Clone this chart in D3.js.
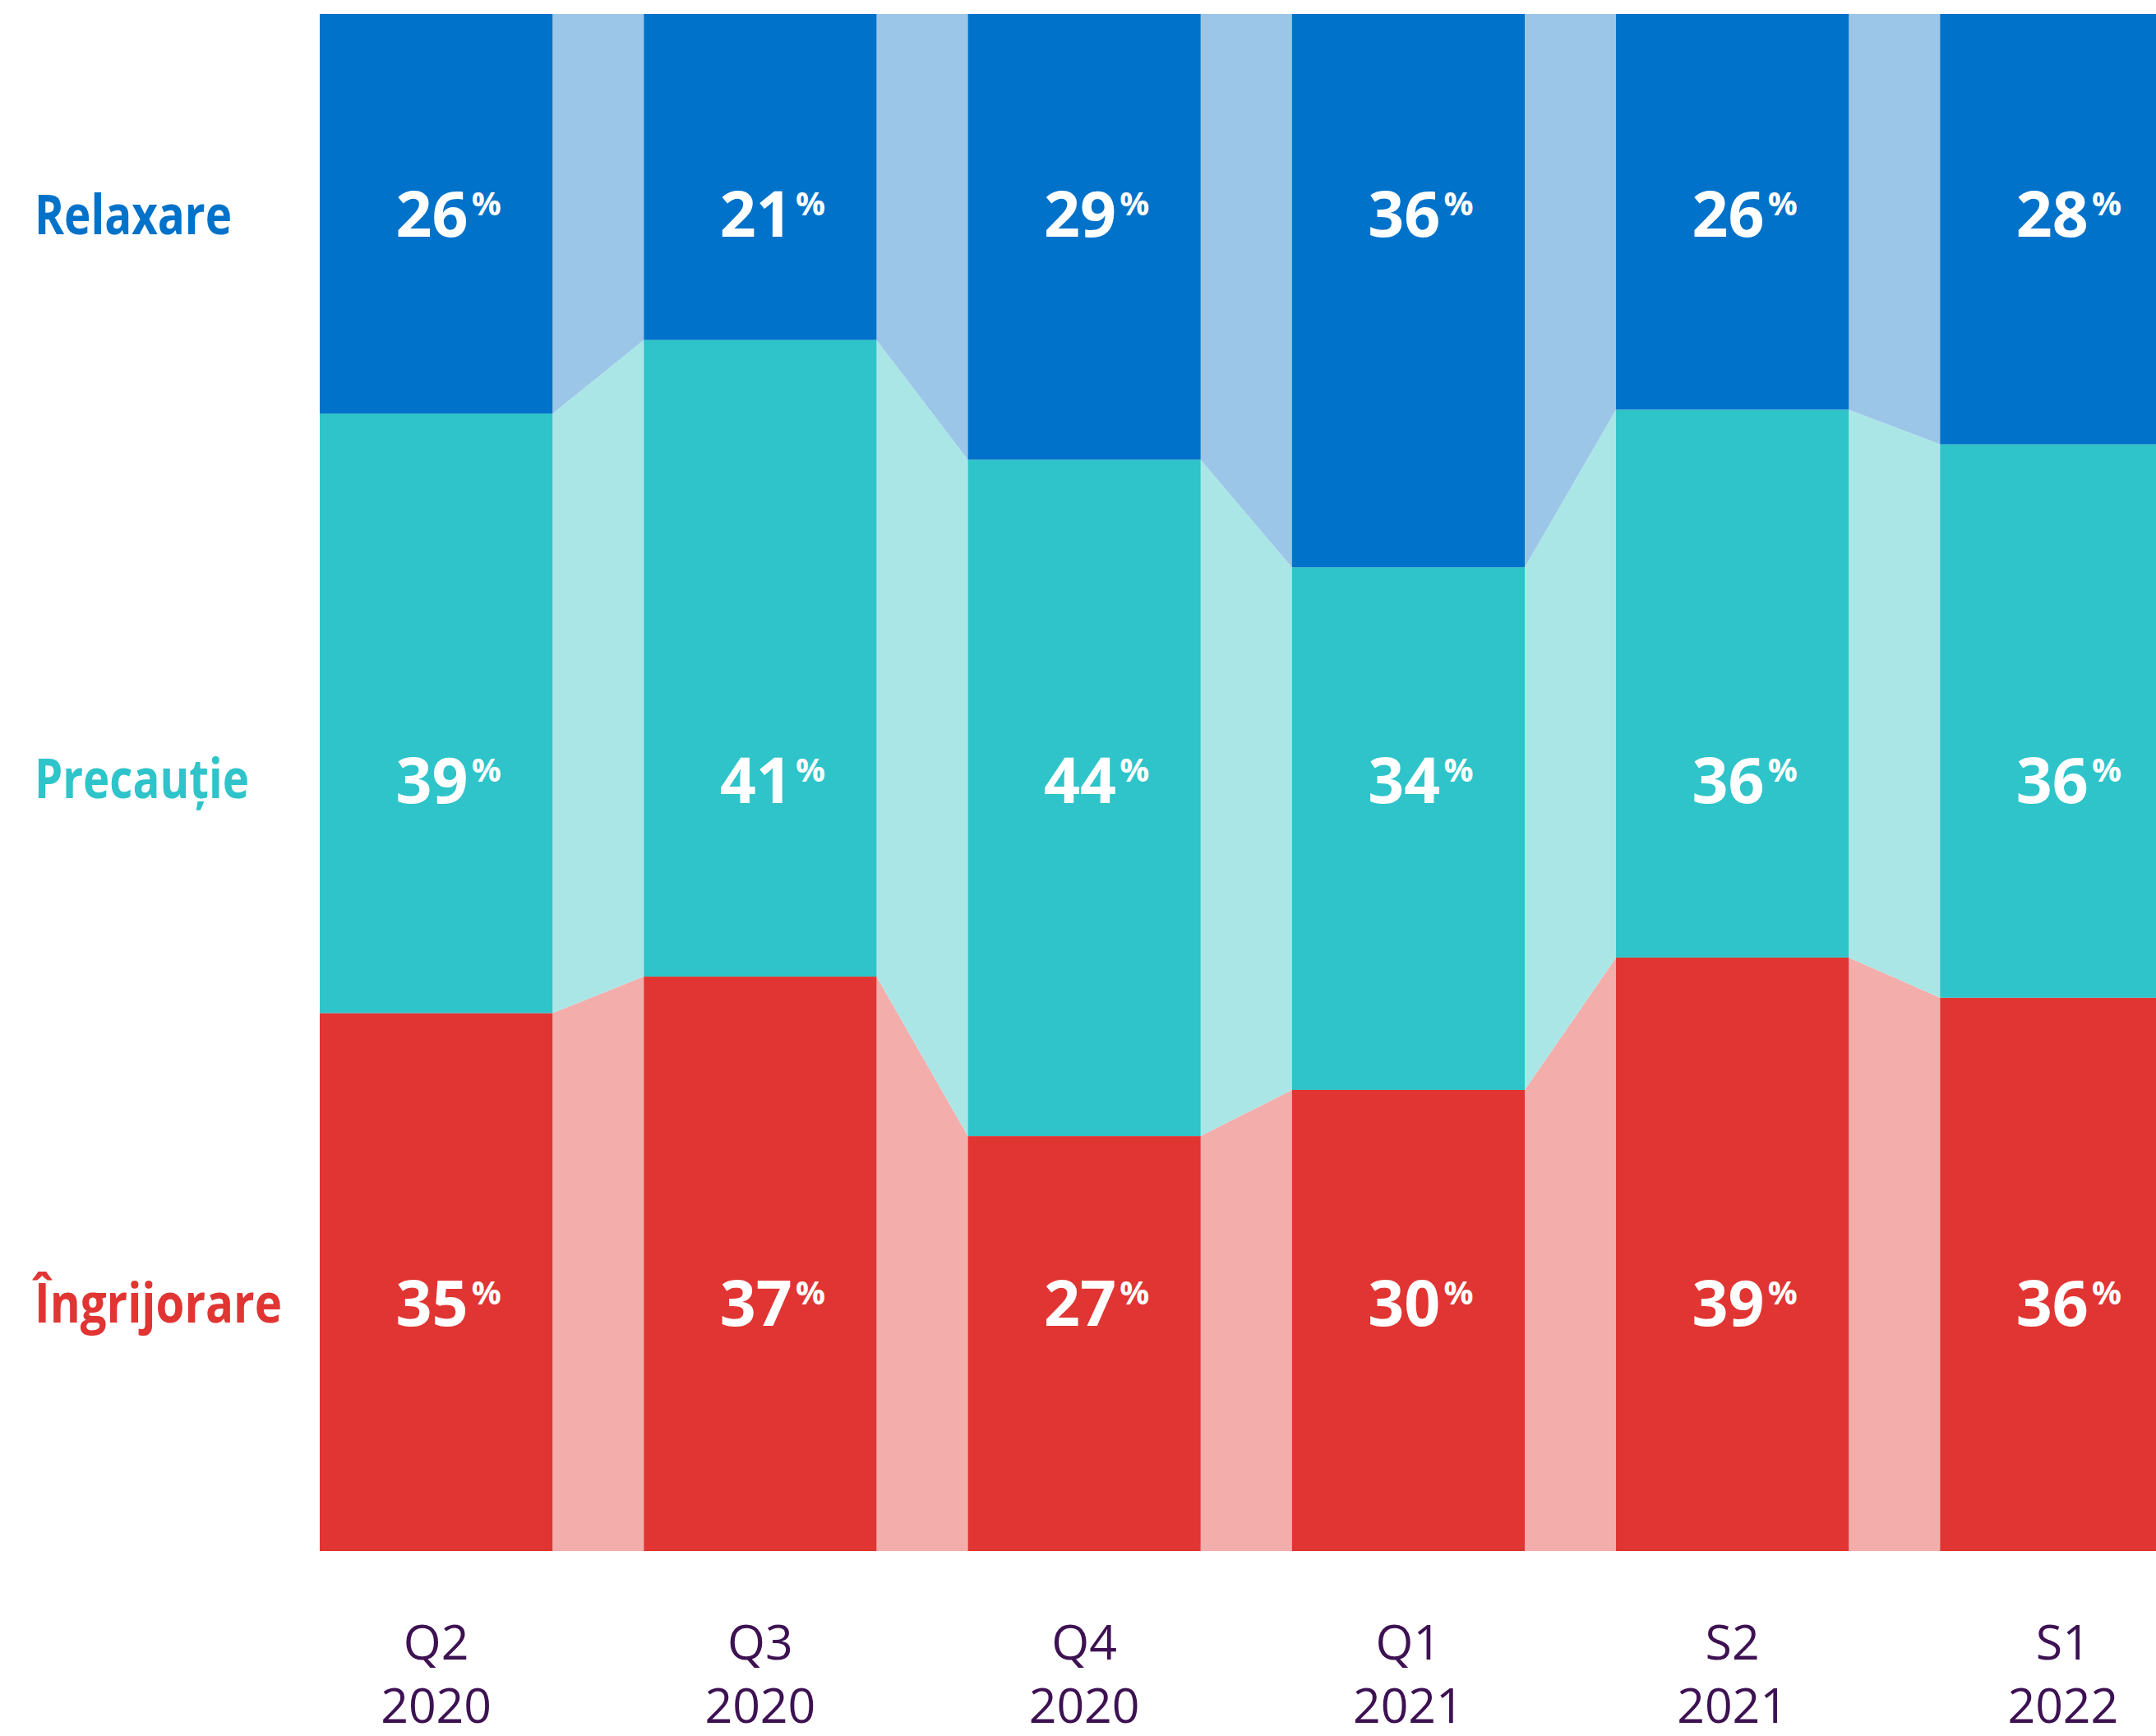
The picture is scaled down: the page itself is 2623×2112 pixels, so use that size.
<!DOCTYPE html>
<html><head><meta charset="utf-8">
<script src="https://cdn.jsdelivr.net/npm/d3@7"></script>
<style>html,body{margin:0;padding:0;background:#fff;overflow:hidden}</style>
</head><body>
<svg id="chart" width="2623" height="2112"></svg>
<script>
const periods = ["Q2","Q3","Q4","Q1","S2","S1"];
const years = ["2020","2020","2020","2021","2021","2022"];
const relaxare = [26,21,29,36,26,28];
const precautie = [39,41,44,34,36,36];
const ingrijorare = [35,37,27,30,39,36];
const seriesNames = ["Îngrijorare","Precauție","Relaxare"];

const keys = ["ingrijorare","precautie","relaxare"];
const colors = {relaxare:"#0072c9", precautie:"#2ec4c9", ingrijorare:"#e03532"};
const light = {relaxare:"#9bc6e8", precautie:"#abe6e7", ingrijorare:"#f3aeac"};
const labelColors = {"Relaxare":"#0072c9","Precauție":"#2ec4c9","Îngrijorare":"#e03532"};

const rows = periods.map((p,i)=>({key:p+" "+years[i], period:p, year:years[i],
  relaxare:relaxare[i], precautie:precautie[i], ingrijorare:ingrijorare[i]}));

const svg = d3.select("#chart");
const x = d3.scaleBand().domain(rows.map(d=>d.key)).range([389, 2643.5]).paddingInner(111/394.2).paddingOuter(0);
const y = d3.scaleLinear().domain([0,1]).range([1887, 17]);
const stacked = d3.stack().keys(keys).offset(d3.stackOffsetExpand)(rows);
const bw = x.bandwidth();

// connectors
stacked.forEach(s=>{
  const g = svg.append("g");
  for(let i=0;i<s.length-1;i++){
    const a=s[i], b=s[i+1];
    const pts=[[x(rows[i].key)+bw, y(a[1])],[x(rows[i+1].key), y(b[1])],[x(rows[i+1].key), y(b[0])],[x(rows[i].key)+bw, y(a[0])]];
    g.append("path").attr("d", d3.line()(pts)+"Z").attr("fill", light[s.key]);
  }
});
// bars
stacked.forEach(s=>{
  svg.append("g").selectAll("rect").data(s).join("rect")
    .attr("x", d=>x(d.data.key)).attr("width", bw)
    .attr("y", d=>y(d[1])).attr("height", d=>y(d[0])-y(d[1]))
    .attr("fill", colors[s.key]);
});

// value labels
const rowBaseline = {relaxare:288, precautie:977, ingrijorare:1613};
keys.forEach(k=>{
  rows.forEach(r=>{
    const cx = x(r.key)+bw/2 - 5;
    const t = svg.append("text").attr("x", cx).attr("y", rowBaseline[k])
      .attr("text-anchor","middle").attr("fill","#fff")
      .style("font-family","'Open Sans', sans-serif").style("font-weight","700").style("font-size","77px")
      .text(r[k]);
    const w = t.node().getComputedTextLength();
    svg.append("text").attr("x", cx + w/2 + 4).attr("y", rowBaseline[k]-26)
      .attr("fill","#fff")
      .style("font-family","'Open Sans', sans-serif").style("font-weight","700").style("font-size","40px")
      .text("%");
  });
});

// series labels on left
const seriesLabelPos = [{name:"Relaxare", y:285, w:240},{name:"Precauție", y:971, w:261},{name:"Îngrijorare", y:1609, w:301}];
seriesLabelPos.forEach(l=>{
  svg.append("text").attr("x",42).attr("y",l.y)
    .attr("fill", labelColors[l.name])
    .attr("textLength", l.w).attr("lengthAdjust","spacingAndGlyphs")
    .style("font-family","'Open Sans', sans-serif").style("font-weight","700").style("font-size","66px")
    .text(l.name);
});

// x labels
const xl = svg.append("g");
rows.forEach((r,i)=>{
  const cx = x(r.key)+bw/2 + (i===rows.length-1 ? 8 : 0);
  xl.append("text").attr("x",cx).attr("y",2019).attr("text-anchor","middle")
    .attr("fill","#3d1152").style("font-family","'Open Sans', sans-serif").style("font-size","59px").text(r.period);
  xl.append("text").attr("x",cx).attr("y",2096).attr("text-anchor","middle")
    .attr("fill","#3d1152").style("font-family","'Open Sans', sans-serif").style("font-size","59px").text(r.year);
});
</script>
</body></html>
